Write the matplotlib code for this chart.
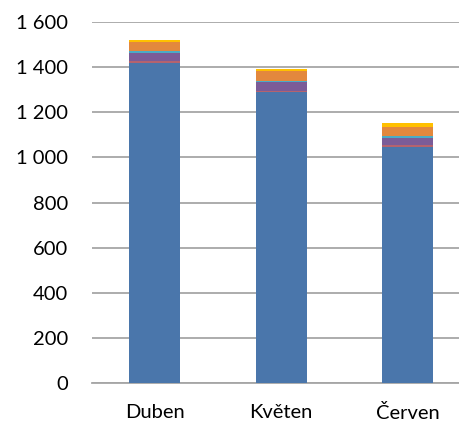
import matplotlib.pyplot as plt
import numpy as np

months = ["Duben", "Květen", "Červen"]

# stacked series, bottom to top
s1 = [1420, 1290, 1047]
s2 = [9, 5, 9]
s3 = [35, 40, 31]
s4 = [6, 5, 6]
s5 = [40, 44, 43]
s6 = [12, 9, 16]

series = [s1, s2, s3, s4, s5, s6]
colors = ["#4A76AB", "#B5636E", "#7B5C98", "#4BACC6", "#E3883D", "#FFC000"]

yticks = [0, 200, 400, 600, 800, 1000, 1200, 1400, 1600]
ytick_labels = ["0", "200", "400", "600", "800", "1 000", "1 200", "1 400", "1 600"]

plt.rcParams["font.family"] = ["Lato", "DejaVu Sans"]

fig = plt.figure(figsize=(4.59, 4.22), dpi=100)
W, H = 459, 422
left, right = 91.5, 459
top, bottom = 22, 383
ax = fig.add_axes([left / W, (H - bottom) / H, (right - left) / W, (bottom - top) / H])

x = np.arange(len(months))
base = np.zeros(len(months))
for vals, c in zip(series, colors):
    ax.bar(x, vals, width=0.4, bottom=base, color=c, zorder=3)
    base += np.array(vals)

# plot is cut off on the right in the reference
ax.set_xlim(-0.5, 2.5 - 12 / 126.5)
ax.set_ylim(0, 1600)
ax.set_yticks(yticks)
ax.set_yticklabels(ytick_labels)
ax.set_xticks(x)
ax.set_xticklabels(months)

ax.yaxis.grid(True, color="#A6A6A6", linewidth=1.3, zorder=0)
ax.set_axisbelow(True)
for sp in ["top", "right", "left"]:
    ax.spines[sp].set_visible(False)
ax.spines["bottom"].set_color("#A6A6A6")
ax.spines["bottom"].set_linewidth(1.3)

ax.tick_params(axis="both", length=0, labelsize=14.5, colors="black")
ax.tick_params(axis="y", pad=17)
ax.tick_params(axis="x", pad=15)

fig.savefig("out.png", dpi=100)
